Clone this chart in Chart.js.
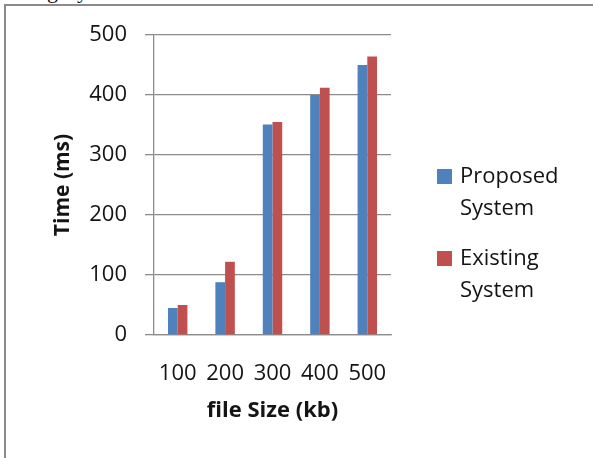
<!DOCTYPE html>
<html>
<head>
<meta charset="utf-8">
<title>Time vs file size</title>
<script src="https://cdn.jsdelivr.net/npm/chart.js@4.4.1/dist/chart.umd.min.js"></script>
<style>
  html, body { margin: 0; padding: 0; background: #fff; overflow: hidden; }
  #wrap { position: relative; width: 593px; height: 458px; overflow: hidden; background: #fff; }
  #frame { position: absolute; left: 4px; top: 4px; width: 700px; height: 600px;
           border-left: 2px solid #8a8a8a; border-top: 2px solid #8a8a8a; }
  .cap { position: absolute; font-family: "Liberation Serif", serif; font-size: 22px;
         line-height: 1; color: #111; }
  canvas { position: absolute; left: 0; top: 0; }
</style>
</head>
<body>
<div id="wrap">
  <div class="cap" style="left:47px; top:-20px;">g</div>
  <div class="cap" style="left:77px; top:-20px;">y</div>
  <div id="frame"></div>
  <canvas id="chart" width="593" height="458"></canvas>
</div>
<script>
// File sizes (kb) on the category axis
const fileSizes = ['100', '200', '300', '400', '500'];
// Response time in ms for each system
const proposedTimes = [45, 88, 351, 400, 450];
const existingTimes = [50, 122, 355, 412, 464];
// Value-axis tick labels
const timeTicks = [0, 100, 200, 300, 400, 500];

const seriesNames = ['Proposed System', 'Existing System'];
const seriesColors = ['#4f81bd', '#c0504d'];

const FONT = '"Open Sans", "Noto Sans", sans-serif';
const TEXT = '#141414';
const AXIS = '#8c8c8c';

// Legend to the right of the plot, each name wrapped onto two lines
const sideLegend = {
  id: 'sideLegend',
  afterDraw(chart) {
    const { ctx, chartArea } = chart;
    const boxX = chartArea.right + 46;
    const textX = chartArea.right + 69;
    const lineGap = 32;
    const itemGap = 82;
    let y = chartArea.top + 142;
    ctx.save();
    ctx.font = '22px ' + FONT;
    ctx.textBaseline = 'middle';
    ctx.textAlign = 'left';
    chart.data.datasets.forEach((ds) => {
      ctx.fillStyle = ds.backgroundColor;
      ctx.fillRect(boxX, y - 8, 15, 15);
      ctx.fillStyle = TEXT;
      const words = ds.label.split(' ');
      words.forEach((w, i) => ctx.fillText(w, textX, y + i * lineGap));
      y += itemGap;
    });
    ctx.restore();
  }
};

function draw() {
  new Chart(document.getElementById('chart'), {
    type: 'bar',
    data: {
      labels: fileSizes,
      datasets: [
        { label: seriesNames[0], data: proposedTimes, backgroundColor: seriesColors[0] },
        { label: seriesNames[1], data: existingTimes, backgroundColor: seriesColors[1] }
      ]
    },
    options: {
      responsive: false,
      animation: false,
      devicePixelRatio: 1,
      layout: { padding: { top: 35, right: 202, bottom: 0, left: 0 } },
      datasets: { bar: { categoryPercentage: 0.41, barPercentage: 1.0, borderWidth: 0 } },
      plugins: { legend: { display: false }, tooltip: { enabled: false } },
      scales: {
        x: {
          grid: { display: false, drawTicks: false, tickLength: 0 },
          border: { display: true, color: AXIS, width: 1.3 },
          ticks: { padding: 26, color: TEXT, font: { family: FONT, size: 22 },
                   maxRotation: 0, autoSkip: false },
          title: { display: true, text: 'file Size (kb)', color: TEXT,
                   font: { family: FONT, size: 22, weight: 'bold' },
                   padding: { top: 0, bottom: 34 } },
          afterFit(scale) { scale.height = 123; }
        },
        y: {
          min: 0, max: 500,
          afterBuildTicks(scale) { scale.ticks = timeTicks.map(v => ({ value: v })); },
          grid: { color: AXIS, lineWidth: 1.3, tickLength: 9, drawTicks: true },
          border: { display: true, color: AXIS, width: 1.3 },
          ticks: { padding: 18, color: TEXT, font: { family: FONT, size: 22 } },
          title: { display: true, text: 'Time (ms)', color: TEXT,
                   font: { family: FONT, size: 21, weight: 'bold' },
                   padding: { top: 50, bottom: 0 } },
          afterFit(scale) { scale.width = 154; }
        }
      }
    },
    plugins: [sideLegend]
  });
}

Promise.all([
  document.fonts.load('22px "Open Sans"'),
  document.fonts.load('bold 22px "Open Sans"')
]).then(draw, draw);
</script>
</body>
</html>
